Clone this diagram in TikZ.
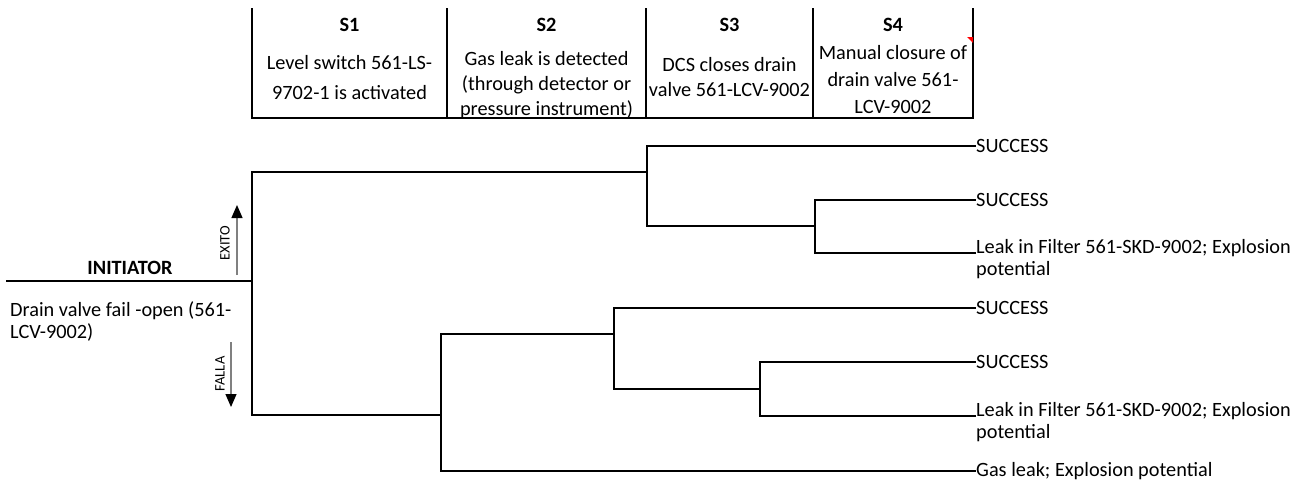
\documentclass[tikz,border=0pt]{standalone}
\usepackage{fontspec}
\setmainfont{Carlito}
\usetikzlibrary{arrows.meta,positioning}
\newcommand{\evtFont}{\fontsize{20.3}{24}\selectfont}
\newcommand{\tagFont}{\fontsize{14.5}{15}\selectfont}

\begin{document}
\begin{tikzpicture}[x=1pt,y=-1pt,
  cell/.style={align=center,font=\evtFont,inner sep=0pt},
  head/.style={font=\evtFont\bfseries,inner sep=0pt},
  leaf/.style={anchor=west,align=left,font=\evtFont,inner sep=0pt},
  grid/.style={line width=2.4pt},
  branch/.style={line width=2.6pt},
  tag/.style={font=\tagFont,rotate=90,inner sep=0pt},
  tagarrow/.style={gray,line width=1.2pt,
    -{Triangle[color=black,length=13pt,width=11pt]}}]
  \useasboundingbox (0,0) rectangle (1301,482);

  % header table
  \draw[grid] (252,8) -- (252,118) -- (973,118) -- (973,8);
  \foreach \x in {447,646,813}
    \draw[grid] (\x,8) -- (\x,118);
  \fill[red] (967,37) -- (973,37) -- (973,43) -- cycle;

  \node[head] (h1) at (349.5,25) {S1};
  \node[head] (h2) at (546.5,25) {S2};
  \node[head] (h3) at (729.5,25) {S3};
  \node[head] (h4) at (893,25) {S4};
  \node[cell] (d1) at (349.5,78) {Level switch 561-LS-\\[6pt]9702-1 is activated};
  \node[cell] (d2) at (546.5,85) {Gas leak is detected\\[1pt](through detector or\\[1pt]pressure instrument)};
  \node[cell] (d3) at (729.5,77.5) {DCS closes drain\\[1pt]valve 561-LCV-9002};
  \node[cell] (d4) at (893,79.5) {Manual closure of\\[3pt]drain valve 561-\\[3pt]LCV-9002};

  % initiating event
  \coordinate (start) at (6,281);
  \coordinate (b0) at (252,281);
  \node[head] (initiator) at (130,268) {INITIATOR};
  \node[leaf,align=left] (cause) at (10,321) {Drain valve fail -open (561-\\[-2pt]LCV-9002)};
  \draw[branch] (start) -- (b0);

  % success / failure legend
  \node[tag] (exito) at (225,243) {EXITO};
  \node[tag] (falla) at (220,374) {FALLA};
  \coordinate (exitoA) at (237,275);
  \coordinate (exitoB) at (237,205);
  \coordinate (fallaA) at (231,342);
  \coordinate (fallaB) at (231,407);
  \draw[tagarrow] (exitoA) -- (exitoB);
  \draw[tagarrow] (fallaA) -- (fallaB);

  % branch points
  \coordinate (n1) at (647,172);
  \coordinate (n2) at (815,226);
  \coordinate (m1) at (441,415);
  \coordinate (m2) at (614,334);
  \coordinate (m3) at (760,389);
  \coordinate (l3) at (976,253);
  \coordinate (l6) at (976,416);

  % outcomes
  \node[leaf] (e1) at (976,146) {SUCCESS};
  \node[leaf] (e2) at (976,200) {SUCCESS};
  \node[leaf] (e3) at (976,259) {Leak in Filter 561-SKD-9002; Explosion\\[-2pt]potential};
  \node[leaf] (e4) at (976,308) {SUCCESS};
  \node[leaf] (e5) at (976,362) {SUCCESS};
  \node[leaf] (e6) at (976,422) {Leak in Filter 561-SKD-9002; Explosion\\[-2pt]potential};
  \node[leaf] (e7) at (976,471) {Gas leak; Explosion potential};

  \draw[branch] (b0) |- (n1);
  \draw[branch] (b0) |- (m1);
  \draw[branch] (n1) |- (e1.west);
  \draw[branch] (n1) |- (n2);
  \draw[branch] (n2) |- (e2.west);
  \draw[branch] (n2) |- (l3);
  \draw[branch] (m1) |- (m2);
  \draw[branch] (m1) |- (e7.west);
  \draw[branch] (m2) |- (e4.west);
  \draw[branch] (m2) |- (m3);
  \draw[branch] (m3) |- (e5.west);
  \draw[branch] (m3) |- (l6);
\end{tikzpicture}
\end{document}
